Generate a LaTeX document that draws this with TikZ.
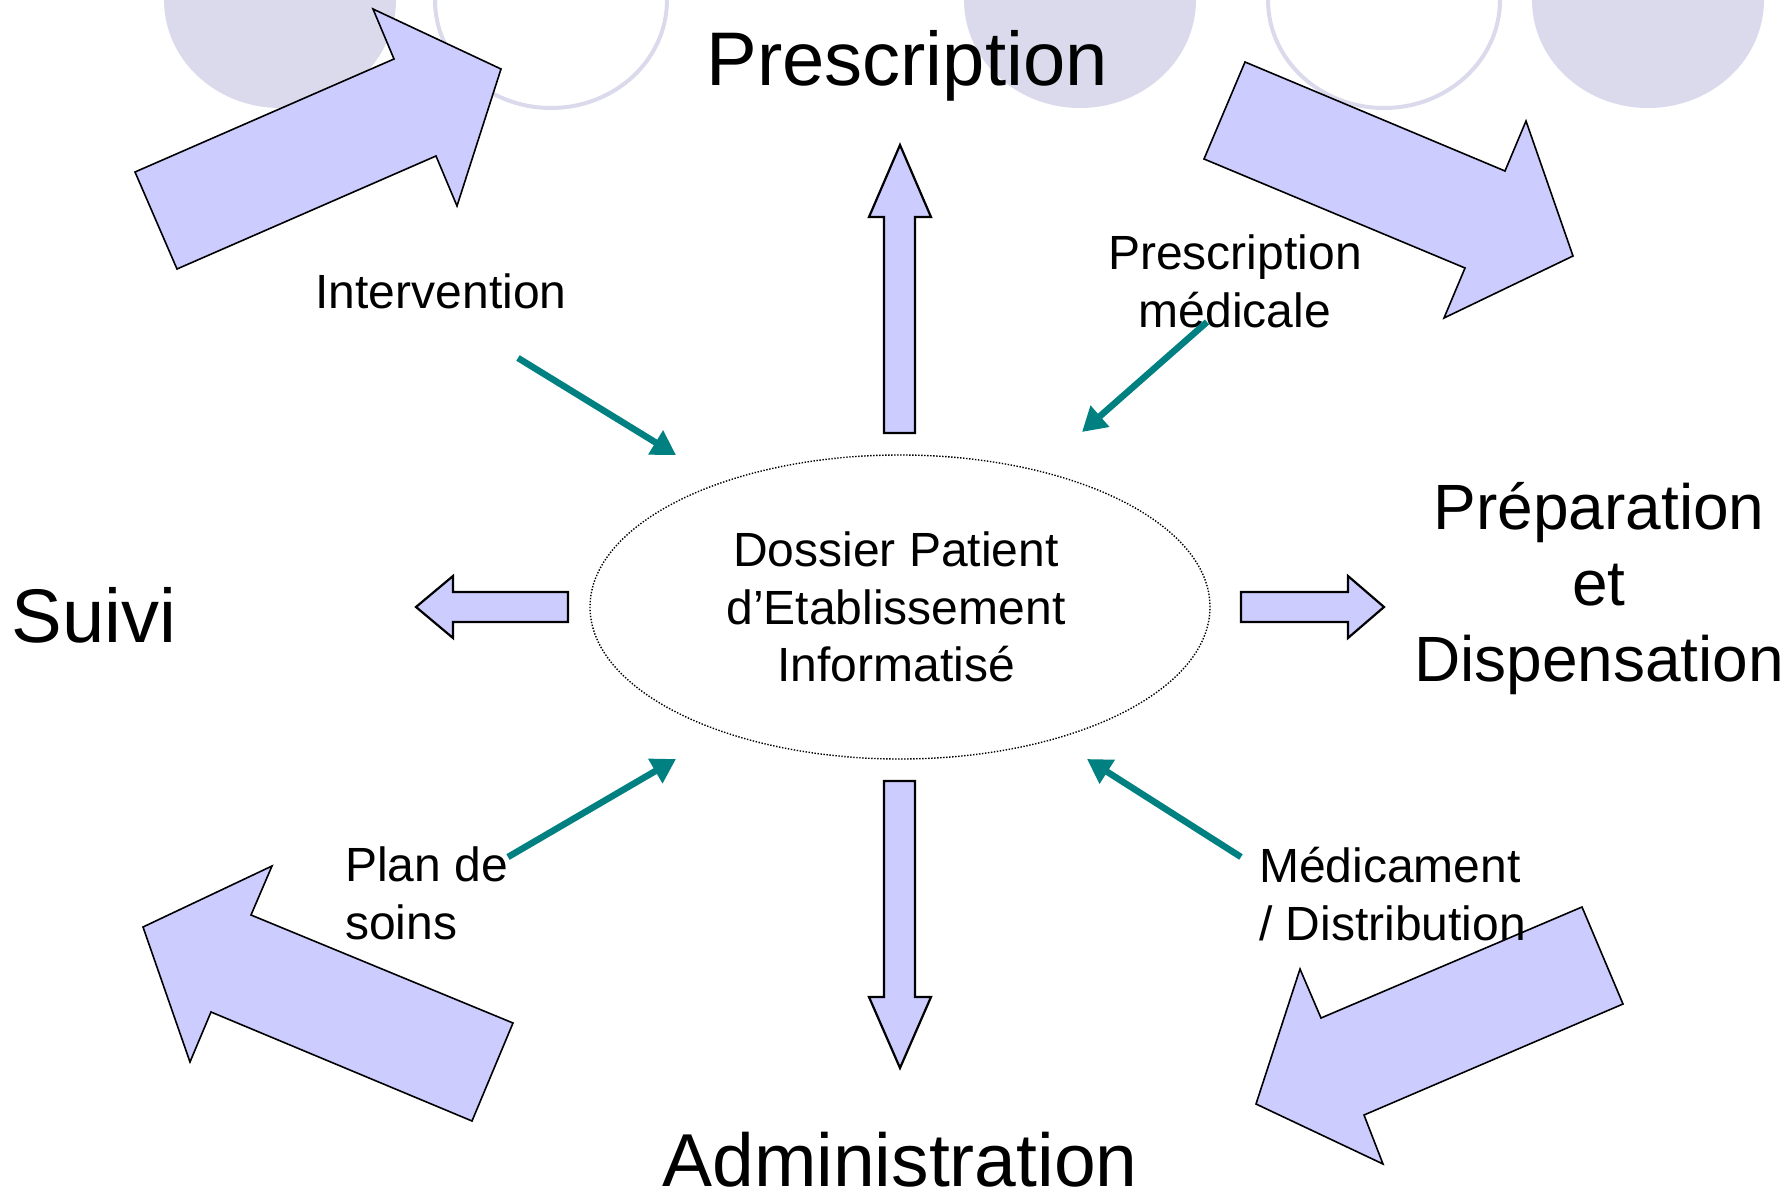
\documentclass[tikz,border=0pt]{standalone}
\usepackage{fontspec}
\setmainfont{Liberation Sans}
\usetikzlibrary{shapes.geometric,arrows.meta}
\definecolor{blockfill}{HTML}{CCCCFF}
\definecolor{disc}{HTML}{DADAEC}
\definecolor{tealarrow}{HTML}{008080}
\begin{document}
\begin{tikzpicture}[x=1pt,y=-1pt,
  discfill/.style={fill=disc},
  discring/.style={draw=disc,line width=4pt},
  bigarrow/.style={fill=blockfill,draw=black,line width=1.6pt,line join=miter},
  blockarrow/.style={fill=blockfill,draw=black,line width=2.2pt,line join=miter},
  feed/.style={draw=tealarrow,line width=6.5pt,-{Triangle[length=24pt,width=27pt]}},
  biglabel/.style={inner sep=0pt,anchor=base,font=\fontsize{76}{91}\selectfont},
  sidelabel/.style={inner sep=0pt,anchor=base,align=center,font=\fontsize{64}{76}\selectfont},
  midlabel/.style={inner sep=0pt,anchor=base,font=\fontsize{48}{57.5}\selectfont},
  dpe/.style={draw=black,line width=1.4pt,dash pattern=on 1.4pt off 1.6pt}]
\useasboundingbox (0,0) rectangle (1789,1193);
% decorative discs at the top
\fill[discfill] (280,0) ellipse [x radius=116pt,y radius=108pt];
\draw[discring] (551,0) ellipse [x radius=116pt,y radius=108pt];
\fill[discfill] (1080,0) ellipse [x radius=116pt,y radius=108pt];
\draw[discring] (1384,0) ellipse [x radius=116pt,y radius=108pt];
\fill[discfill] (1648,0) ellipse [x radius=116pt,y radius=108pt];
% big curved-flow arrows
\draw[bigarrow] (135,172) -- (394,59) -- (373,9) -- (501,69) -- (457,206) -- (436,156) -- (177,269) -- cycle;
\draw[bigarrow] (1245,62) -- (1505,171) -- (1526,121) -- (1573,256) -- (1444,318) -- (1465,268) -- (1204,159) -- cycle;
\draw[bigarrow] (143,927) -- (272,866) -- (251,915) -- (513,1023) -- (472,1121) -- (211,1012) -- (190,1062) -- cycle;
\draw[bigarrow] (1582,907) -- (1623,1004) -- (1364,1115) -- (1383,1164) -- (1256,1104) -- (1300,969) -- (1321,1018) -- cycle;
% block arrows around the centre
\draw[blockarrow] (884,433) -- (884,217) -- (869,217) -- (900,145) -- (931,217) -- (915,217) -- (915,433) -- cycle;
\draw[blockarrow] (884,781) -- (884,997) -- (869,997) -- (900,1068) -- (931,997) -- (915,997) -- (915,781) -- cycle;
\draw[blockarrow] (568,592) -- (453,592) -- (453,576) -- (416,607) -- (453,638) -- (453,622) -- (568,622) -- cycle;
\draw[blockarrow] (1241,592) -- (1348,592) -- (1348,576) -- (1384,607) -- (1348,638) -- (1348,622) -- (1241,622) -- cycle;
% central record
\draw[dpe] (900,607) ellipse [x radius=310pt,y radius=152pt];
\node[inner sep=0pt,align=center,font=\fontsize{48}{57.5}\selectfont] (dossier) at (896,607) {Dossier Patient\\d’Etablissement\\Informatisé};
% labels
\node[biglabel] (prescription) at (907,86) {Prescription};
\node[biglabel] (suivi) at (94,642) {Suivi};
\node[biglabel,font=\fontsize{75}{90}\selectfont] (administration) at (900,1186) {Administration};
\node[sidelabel] (preparation) at (1599,681) {Préparation\\et\\Dispensation};
\node[midlabel] (intervention) at (441,308) {Intervention};
\node[midlabel,align=center] (prescmed) at (1235,327) {Prescription\\médicale};
\node[midlabel,align=left,anchor=base west] (plan) at (345,939) {Plan de\\soins};
\node[midlabel,align=left,anchor=base west] (medic) at (1259,940) {Médicament\\/ Distribution};
% teal feed arrows
\coordinate (i1) at (518,358); \coordinate (i2) at (676,455);
\coordinate (p1) at (1207,322); \coordinate (p2) at (1082,432);
\coordinate (s1) at (508,857); \coordinate (s2) at (676,759);
\coordinate (m1) at (1241,857); \coordinate (m2) at (1087,759);
\draw[feed] (i1) -- (i2);
\draw[feed] (p1) -- (p2);
\draw[feed] (s1) -- (s2);
\draw[feed] (m1) -- (m2);
\end{tikzpicture}
\end{document}
